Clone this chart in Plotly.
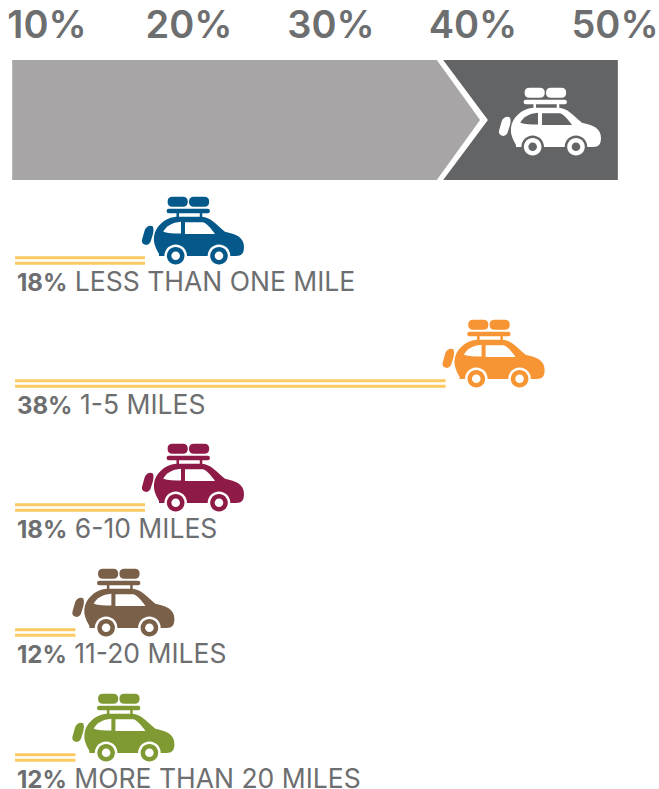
import plotly.graph_objects as go

# --- data ---
categories = ["LESS THAN ONE MILE", "1-5 MILES", "6-10 MILES", "11-20 MILES", "MORE THAN 20 MILES"]
shares = [18, 38, 18, 12, 12]                 # printed percentages
bar_ends = [16.9, 38.07, 16.9, 12.0, 12.0]    # where each drawn bar ends on the top scale
colors = ["#04598a", "#f79433", "#8e1b47", "#7a5f49", "#7f9a32"]
tick_values = [10, 20, 30, 40, 50]
tick_labels = ["10%", "20%", "30%", "40%", "50%"]
bar_start = 7.75
gray_band_start = 7.55
gray_band_end = 37.45
band_tip = 40.5
dark_band_start = 37.9
dark_band_notch = 41.05
dark_band_end = 50.2
banner_car_at = 42.04

# --- layout constants ---
W, H = 659, 789
TOP = 48
PX = 14.2                     # pixels per percentage point
XMIN = 10 - 47 / PX
XMAX = XMIN + W / PX
ROW_OFFSETS = [0, 123, 247, 372, 497]
GRAY, DARK, TEXT, YELLOW = "#a7a5a6", "#636466", "#6d6e70", "#fdc962"
FONT = "Inter, 'Open Sans', sans-serif"


def fx(value, dx=0):
    return value + dx / PX


def path(cmds, ox, oy):
    out = []
    for c in cmds:
        pts = c[1:]
        coords = " ".join(f"{ox + pts[i] / PX:.4f},{oy + pts[i + 1]:.2f}" for i in range(0, len(pts), 2))
        out.append(f"{c[0]}{coords}")
    return " ".join(out) + " Z"


def circle(cx, cy, r):
    k = 0.5523 * r
    return [
        ("M", cx - r, cy),
        ("C", cx - r, cy - k, cx - k, cy - r, cx, cy - r),
        ("C", cx + k, cy - r, cx + r, cy - k, cx + r, cy),
        ("C", cx + r, cy + k, cx + k, cy + r, cx, cy + r),
        ("C", cx - k, cy + r, cx - r, cy + k, cx - r, cy),
    ]


def pill(x0, y0, x1, y1):
    r = (y1 - y0) / 2
    return [
        ("M", x0 + r, y0), ("L", x1 - r, y0),
        ("Q", x1, y0, x1, y0 + r), ("Q", x1, y1, x1 - r, y1),
        ("L", x0 + r, y1), ("Q", x0, y1, x0, y0 + r), ("Q", x0, y0, x0 + r, y0),
    ]


# icon outline in pixels relative to the car's left edge / top reference
LUG_A = pill(25.6, 6.7, 45.8, 16.7)
LUG_B = pill(47, 6.7, 67.2, 16.7)
RACK = pill(24.6, 18.7, 68, 23.3)
POST_A = [("M", 34.5, 23), ("L", 37, 23), ("L", 37, 28), ("L", 34.5, 28)]
POST_B = [("M", 57.8, 23), ("L", 60.3, 23), ("L", 60.3, 28), ("L", 57.8, 28)]
SPARE = [
    ("M", 5, 37), ("Q", 8, 35, 11, 36.5), ("Q", 12.2, 40, 11, 44),
    ("L", 8.5, 52), ("Q", 6.5, 56, 2.5, 54.5), ("Q", -0.6, 53, 0, 50), ("L", 2.5, 41),
    ("Q", 3, 38.5, 5, 37),
]
BODY = [
    ("M", 17, 64), ("Q", 11, 54, 12, 47), ("C", 13, 37, 22, 28, 34, 26.7),
    ("L", 60, 26.7), ("C", 68, 27, 74, 34, 83, 41.7), ("C", 94, 44, 102, 47, 102, 57),
    ("C", 102, 63, 100, 66, 94, 66), ("L", 17, 66),
]
WIN_BACK = [("M", 21.3, 41.7), ("C", 24, 36, 30, 32.5, 39, 31.7), ("L", 39, 43.5), ("C", 32, 43.5, 26, 43.5, 21.3, 41.7)]
WIN_FRONT = [("M", 43, 32.3), ("L", 61, 32.3), ("C", 66, 34, 70, 40, 73, 44), ("L", 43, 44)]
WHEELS = [(33.7, 65.7), (77, 65.7)]


def car(value, oy, color, bg):
    ox = fx(value, -3)
    shapes = []
    for part in (LUG_A, LUG_B, RACK, POST_A, POST_B, SPARE, BODY):
        shapes.append(dict(type="path", xref="x", yref="y", path=path(part, ox, oy),
                           fillcolor=color, line_width=0, layer="above"))
    for part in (WIN_BACK, WIN_FRONT):
        shapes.append(dict(type="path", xref="x", yref="y", path=path(part, ox, oy),
                           fillcolor=bg, line_width=0, layer="above"))
    for cx, cy in WHEELS:
        for r, col in ((11.3, bg), (8.8, color), (4.3, bg)):
            shapes.append(dict(type="path", xref="x", yref="y", path=path(circle(cx, cy, r), ox, oy),
                               fillcolor=col, line_width=0, layer="above"))
    return shapes


fig = go.Figure()
shapes = []

# top banner
shapes.append(dict(type="path", xref="x", yref="y", line_width=0, fillcolor=GRAY,
                   path=f"M{gray_band_start},60 L{gray_band_end},60 L{band_tip},120 L{gray_band_end},180 L{gray_band_start},180 Z"))
shapes.append(dict(type="path", xref="x", yref="y", line_width=0, fillcolor=DARK,
                   path=f"M{dark_band_start},60 L{dark_band_end},60 L{dark_band_end},180 L{dark_band_start},180 L{dark_band_notch},120 Z"))
shapes += car(banner_car_at, 81, "#ffffff", DARK)

annotations = []
for cat, share, end, color, off in zip(categories, shares, bar_ends, colors, ROW_OFFSETS):
    for y in (257.8, 263.2):
        fig.add_trace(go.Scatter(x=[bar_start, end], y=[y + off, y + off], mode="lines",
                                 line=dict(color=YELLOW, width=3), hoverinfo="skip", showlegend=False))
    shapes += car(end, 190 + off, color, "#ffffff")
    annotations.append(dict(xref="x", yref="y", x=fx(bar_start, 0), y=281 + off, xanchor="left", yanchor="middle",
                            text=f"<span style=\"font-size:24px\"><b>{share}%</b></span> {cat}", showarrow=False,
                            font=dict(family=FONT, size=26.5, color=TEXT)))

fig.update_layout(
    width=W, height=H, margin=dict(l=0, r=0, t=TOP, b=0, autoexpand=False),
    paper_bgcolor="white", plot_bgcolor="white", showlegend=False, hovermode=False,
    shapes=shapes, annotations=annotations,
    xaxis=dict(range=[XMIN, XMAX], side="top", tickmode="array", tickvals=tick_values, ticktext=tick_labels,
               showgrid=False, zeroline=False, showline=False, ticks="",
               tickfont=dict(family=FONT, size=38, color=TEXT, weight=600), ticklabelstandoff=1),
    yaxis=dict(range=[H, TOP], visible=False),
)
fig.write_html("out.html", config={"displayModeBar": False},
               post_script="document.body.style.margin='0';document.documentElement.style.overflow='hidden';")
